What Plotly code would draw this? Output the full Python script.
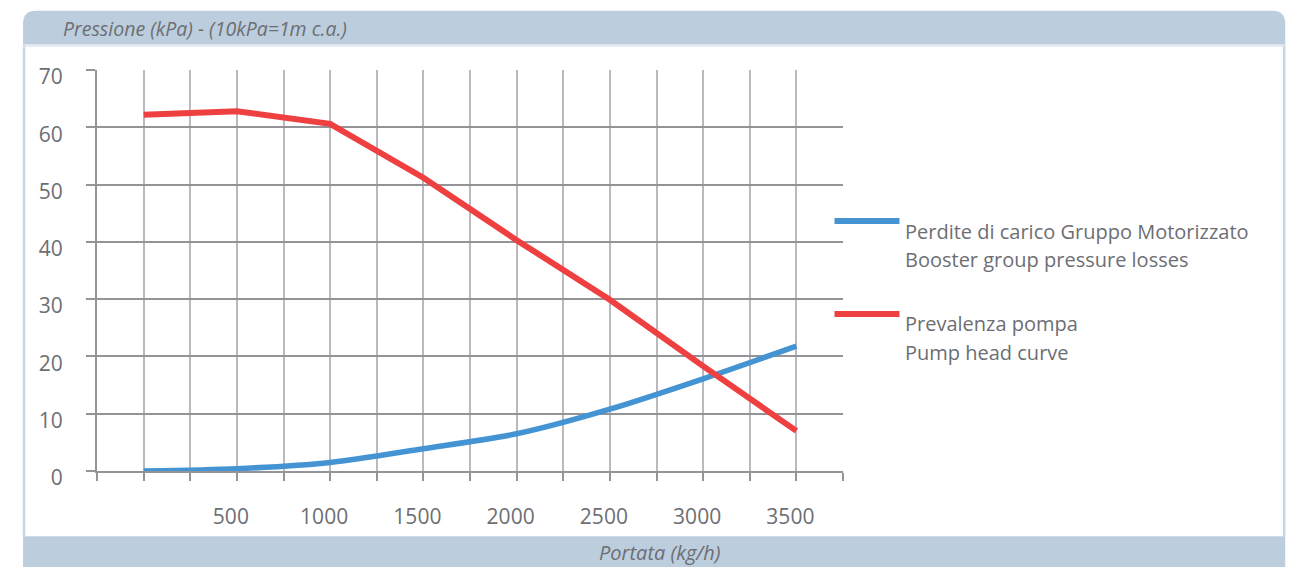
import plotly.graph_objects as go

# ---------------- data ----------------
FLOW = [0, 500, 1000, 1500, 2000, 2500, 3000, 3500]
LOSSES = [0.0, 0.4, 1.5, 3.9, 6.5, 10.8, 16.1, 21.8]
PUMP_HEAD = [62.2, 62.8, 60.6, 51.2, 40.3, 29.9, 18.3, 7.0]
X_TICKS = [500, 1000, 1500, 2000, 2500, 3000, 3500]
X_TICK_LABELS = ["500", "1000", "1500", "2000", "2500", "3000", "3500"]
Y_TICKS = [0, 10, 20, 30, 40, 50, 60, 70]
NAME_LOSSES = ["Perdite di carico Gruppo Motorizzato", "Booster group pressure losses"]
NAME_PUMP = ["Prevalenza pompa", "Pump head curve"]
Y_TITLE = "Pressione (kPa) - (10kPa=1m c.a.)"
X_TITLE = "Portata (kg/h)"

# ---------------- style ----------------
OFF = 8                      # browser body margin
W, H = 1295 - OFF, 567 - OFF
# plot area in page pixels
PL, PR, PT, PB = 97, 843.5, 69.5, 471.5
BAND = "#bccddd"
BORDER = "#c6d6e6"
TEXT = "#6d6e73"
HGRID = "#939398"
VGRID = "#b9b9be"
BLUE = "#4494d4"
RED = "#ee4040"
FONT = "Open Sans"


def px(x):
    return (x - PL) / (PR - PL)


def py(y):
    return (PB - y) / (PB - PT)


# grid every 250 (category boundaries and centres)
grid_x = list(range(-250, 3751, 250))
grid_text = [X_TICK_LABELS[X_TICKS.index(v)] if v in X_TICKS else "" for v in grid_x]

fig = go.Figure()
fig.add_trace(go.Scatter(x=FLOW, y=LOSSES, mode="lines", name=" ".join(NAME_LOSSES),
                         line=dict(color=BLUE, width=5.5, shape="spline", smoothing=0.8),
                         showlegend=False))
fig.add_trace(go.Scatter(x=FLOW, y=PUMP_HEAD, mode="lines", name=" ".join(NAME_PUMP),
                         line=dict(color=RED, width=6),
                         showlegend=False))

shapes = []
# header band with rounded top corners
r = 13
x0, x1, y0, y1 = 23, 1286, 10, 44
path = (f"M {px(x0)},{py(y1)} L {px(x0)},{py(y0 + r)} "
        f"Q {px(x0)},{py(y0)} {px(x0 + r)},{py(y0)} "
        f"L {px(x1 - r)},{py(y0)} Q {px(x1)},{py(y0)} {px(x1)},{py(y0 + r)} "
        f"L {px(x1)},{py(y1)} Z")
shapes.append(dict(type="path", xref="paper", yref="paper", path=path,
                   fillcolor=BAND, line=dict(width=0), layer="below"))
# bottom band with rounded bottom corners
r2 = 7
b0, b1 = 537, 575
path2 = (f"M {px(x0)},{py(b0)} L {px(x1)},{py(b0)} L {px(x1)},{py(b1 - r2)} "
         f"Q {px(x1)},{py(b1)} {px(x1 - r2)},{py(b1)} L {px(x0 + r2)},{py(b1)} "
         f"Q {px(x0)},{py(b1)} {px(x0)},{py(b1 - r2)} Z")
shapes.append(dict(type="path", xref="paper", yref="paper", path=path2,
                   fillcolor=BAND, line=dict(width=0), layer="below"))
# panel side borders and thin line under header
for xx in (x0 + 1, x1 - 1):
    shapes.append(dict(type="line", xref="paper", yref="paper",
                       x0=px(xx), x1=px(xx), y0=py(44), y1=py(537),
                       line=dict(color=BORDER, width=2.5), layer="below"))
shapes.append(dict(type="line", xref="paper", yref="paper",
                   x0=px(x0), x1=px(x1), y0=py(45.5), y1=py(45.5),
                   line=dict(color="#dbe5ef", width=1.5), layer="below"))

# legend (manual, Excel style: line above-left of the text)
annotations = []
for i, (color, names, ly) in enumerate(((BLUE, NAME_LOSSES, 221), (RED, NAME_PUMP, 314))):
    shapes.append(dict(type="line", xref="paper", yref="paper",
                       x0=px(835), x1=px(900), y0=py(ly), y1=py(ly),
                       line=dict(color=color, width=6)))
    for j, t in enumerate(names):
        annotations.append(dict(xref="paper", yref="paper", x=px(904), y=py(ly + 10 + 28.5 * j),
                                text=t, showarrow=False, xanchor="left", yanchor="middle",
                                font=dict(family=FONT, size=20, color=TEXT)))

annotations.append(dict(xref="paper", yref="paper", x=px(61), y=py(28), text=f"<i>{Y_TITLE}</i>",
                        showarrow=False, xanchor="left", yanchor="middle",
                        font=dict(family=FONT, size=19.5, color=TEXT)))
annotations.append(dict(xref="paper", yref="paper", x=px(660), y=py(553.5), text=f"<i>{X_TITLE}</i>",
                        showarrow=False, xanchor="center", yanchor="middle",
                        font=dict(family=FONT, size=20, color=TEXT)))

fig.update_layout(
    width=W, height=H,
    margin=dict(l=PL - OFF, r=W - (PR - OFF), t=PT - OFF, b=H - (PB - OFF), pad=0),
    paper_bgcolor="white", plot_bgcolor="white",
    shapes=shapes, annotations=annotations,
    showlegend=False,
    font=dict(family=FONT, color=TEXT),
)
fig.update_xaxes(range=[-250, 3750], tickmode="array", tickvals=grid_x, ticktext=grid_text,
                 showgrid=True, gridcolor=VGRID, gridwidth=2,
                 showline=True, linecolor=HGRID, linewidth=2,
                 ticks="outside", ticklen=8, tickwidth=2, tickcolor=HGRID,
                 tickfont=dict(family=FONT, size=21, color=TEXT),
                 ticklabelstandoff=18, ticklabelshift=-6, zeroline=False, fixedrange=True)
fig.update_yaxes(range=[0, 70], tickmode="array", tickvals=Y_TICKS,
                 showgrid=True, gridcolor=HGRID, gridwidth=2,
                 showline=True, linecolor=HGRID, linewidth=2,
                 ticks="outside", ticklen=9, tickwidth=2, tickcolor=HGRID,
                 tickfont=dict(family=FONT, size=21, color=TEXT),
                 ticklabelstandoff=19, ticklabelshift=7, zeroline=False, fixedrange=True)

fig.write_html("out.html")
